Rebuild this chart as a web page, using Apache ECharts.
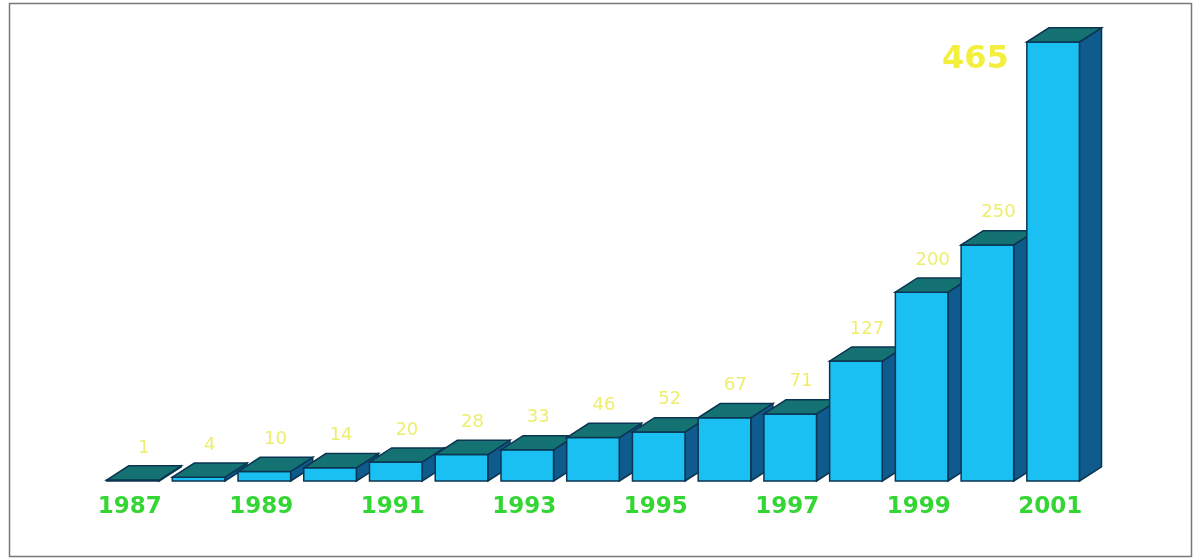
<!DOCTYPE html>
<html>
<head>
<meta charset="utf-8">
<script src="https://cdn.jsdelivr.net/npm/echarts@6/dist/echarts.min.js"></script>
<style>
html,body{margin:0;padding:0;background:#fff;}
#chart{width:1198px;height:559px;}
</style>
</head>
<body>
<div id="chart"></div>
<script>
const years = ['1987','1988','1989','1990','1991','1992','1993','1994','1995','1996','1997','1998','1999','2000','2001'];
const values = [1, 4, 10, 14, 20, 28, 33, 46, 52, 67, 71, 127, 200, 250, 465];

const chart = echarts.init(document.getElementById('chart'));
const lastIdx = values.length - 1;

function renderItem(params, api) {
  const idx = api.value(0);
  const v = api.value(1);
  const p0 = api.coord([idx, 0]);
  const p1 = api.coord([idx, v]);
  const band = api.size([1, 0])[0];
  const bw = band * 0.8;
  const dx = bw * 0.42, dy = -bw * 0.27;
  const l = p0[0] - bw / 2, r = p0[0] + bw / 2;
  const b = p0[1], t = p1[1];
  const edge = '#0b3552';
  const children = [
    { type: 'polygon', shape: { points: [[r, b], [r + dx, b + dy], [r + dx, t + dy], [r, t]] },
      style: { fill: '#0f5b8e', stroke: edge, lineWidth: 1.5 } },
    { type: 'rect', shape: { x: l, y: t, width: bw, height: b - t },
      style: { fill: '#1bc0f2', stroke: edge, lineWidth: 1.5 } },
    { type: 'polygon', shape: { points: [[l, t], [l + dx, t + dy], [r + dx, t + dy], [r, t]] },
      style: { fill: '#157272', stroke: edge, lineWidth: 1.5 } }
  ];
  if (idx === lastIdx) {
    children.push({ type: 'text', style: { text: String(v), x: l - 18, y: t + 18,
      align: 'right', verticalAlign: 'middle', fill: '#f3ef3e',
      font: 'bold 32px "DejaVu Sans", sans-serif' } });
  } else {
    children.push({ type: 'text', style: { text: String(v), x: p0[0] + dx / 2, y: t + dy - 9,
      align: 'center', verticalAlign: 'bottom', fill: '#eeee6e',
      font: '18px "DejaVu Sans", sans-serif' } });
  }
  return { type: 'group', children: children };
}

chart.setOption({
  animation: false,
  backgroundColor: '#ffffff',
  graphic: [{
    type: 'rect', shape: { x: 9.5, y: 3.5, width: 1182, height: 553 },
    style: { fill: 'none', stroke: '#777', lineWidth: 1.5 }, z: 100
  }],
  grid: { left: 100, right: 112, top: 42, bottom: 78 },
  xAxis: {
    type: 'category',
    data: years,
    axisLine: { show: false },
    axisTick: { show: false },
    axisLabel: {
      interval: 1,
      margin: 15,
      color: '#33d633',
      fontWeight: 'bold',
      fontSize: 23,
      fontFamily: '"DejaVu Sans", sans-serif',
      padding: [0, 6, 0, 0]
    }
  },
  yAxis: { type: 'value', min: 0, max: 465, show: false, splitLine: { show: false } },
  series: [{
    type: 'custom',
    renderItem: renderItem,
    data: values.map((v, i) => [i, v]),
    clip: false
  }]
});
</script>
</body>
</html>
